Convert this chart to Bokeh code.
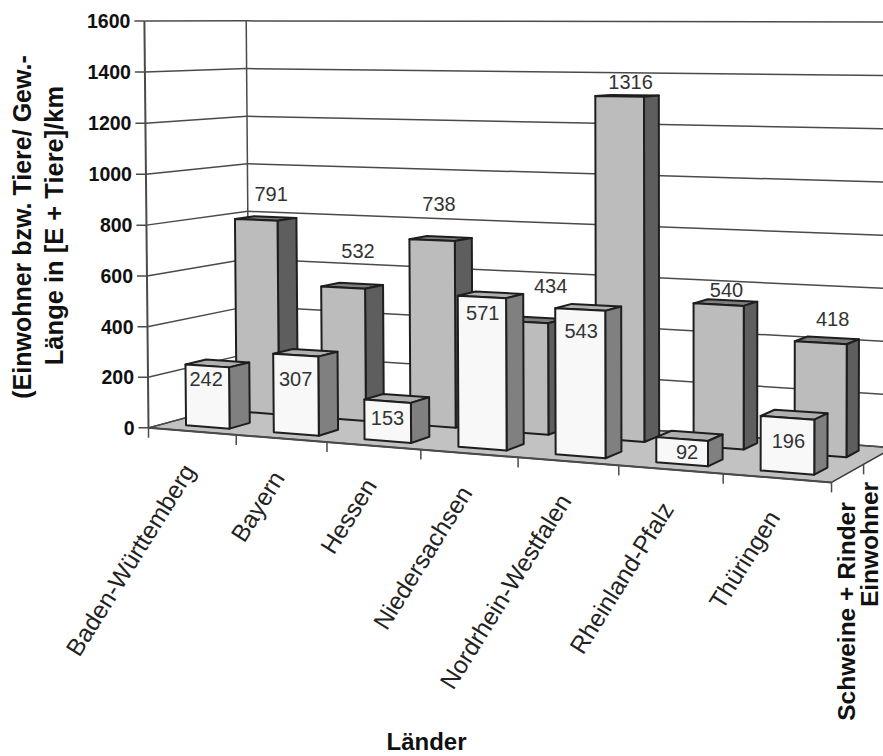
import numpy as np
from bokeh.plotting import figure
from bokeh.models import Range1d
from bokeh.core.properties import value
from bokeh.embed import file_html
from bokeh.resources import INLINE

laender = ["Baden-Württemberg", "Bayern", "Hessen", "Niedersachsen",
           "Nordrhein-Westfalen", "Rheinland-Pfalz", "Thüringen"]
einwohner = [242, 307, 153, 571, 543, 92, 196]
schweine_rinder = [791, 532, 738, 434, 1316, 540, 418]
y_ticks = [0, 200, 400, 600, 800, 1000, 1200, 1400, 1600]
series_names = ["Schweine + Rinder", "Einwohner"]
y_title = ["(Einwohner bzw. Tiere/ Gew.-", "Länge in [E + Tiere]/km"]
x_title = "Länder"

# camera calibration: (category pos, depth, value) -> page pixel
CAL = [
    (0, 0, 0, 148, 427), (7, 0, 0, 831, 482), (0, 1, 0, 248, 400), (7, 1, 0, 893, 448),
    (0, 0, 1600, 143, 20.5), (0, 1, 1600, 246, 20.5), (7, 1, 1600, 893, 21),
    (1, 0, 0, 236, 434), (2, 0, 0, 326, 441.5), (3, 0, 0, 420, 449), (4, 0, 0, 517, 456.5),
    (5, 0, 0, 618, 465), (6, 0, 0, 723, 473.5),
    (0, 0, 800, 145.5, 225), (0, 1, 800, 247, 211),
    (6.75, 0.65, 418, 846, 343), (4.75, 0.65, 1316, 645, 96), (0.75, 0.65, 791, 278, 220),
    (6.75, 0.15, 196, 814, 419), (3.75, 0.15, 571, 506, 299), (0.75, 0.15, 242, 230, 366.7),
]
A = []
b = []
for u, v, h, x, y in CAL:
    h = h / 1000.0
    A.append([u, v, h, 1, 0, 0, 0, 0, -x * u, -x * v, -x * h]); b.append(x)
    A.append([0, 0, 0, 0, u, v, h, 1, -y * u, -y * v, -y * h]); b.append(y)
M = np.linalg.lstsq(np.array(A, float), np.array(b, float), rcond=None)[0]


def P(u, v, h):
    h = h / 1000.0
    w = M[8] * u + M[9] * v + M[10] * h + 1
    return ((M[0] * u + M[1] * v + M[2] * h + M[3]) / w,
            (M[4] * u + M[5] * v + M[6] * h + M[7]) / w)


W, H = 883, 756
p = figure(width=W, height=H, output_backend="svg", toolbar_location=None,
           x_range=Range1d(0, W), y_range=Range1d(H, 0),
           x_axis_location=None, y_axis_location=None, min_border=0,
           outline_line_color=None, background_fill_color="white",
           border_fill_color="white")
p.grid.visible = False

FONT = value("Liberation Sans")
GRID = "#4a4a4a"
EDGE = "#1e1e1e"
NC = len(laender)


def seg(a, b, width=1.5, color=GRID):
    p.line([a[0], b[0]], [a[1], b[1]], line_color=color, line_width=width)


# floor
fl = [P(0, 0, 0), P(NC, 0, 0), P(NC, 1, 0), P(0, 1, 0)]
p.patch([q[0] for q in fl], [q[1] for q in fl], fill_color="#c2c2c2", line_color="#3a3a3a", line_width=1.5)

# walls: gridlines and value ticks
for t in y_ticks:
    a = P(0, 0, t)
    seg((a[0] - 10, a[1]), a)
    seg(a, P(0, 1, t))
    seg(P(0, 1, t), P(NC, 1, t))
seg(P(0, 0, 0), P(0, 0, y_ticks[-1]), 2)
seg(P(0, 1, 0), P(0, 1, y_ticks[-1]), 1.5)
seg(fl[0], fl[1], 2)

# category ticks on the floor edge
for i in range(NC + 1):
    a = P(i, 0, 0)
    seg(a, (a[0], a[1] + 10))
a = P(NC, 0.5, 0)
seg(a, (a[0], a[1] + 10))

BW = 0.25
BD = 0.10


def bar(i, vc, val, front, top, side):
    u0, u1 = i + 0.5 - BW, i + 0.5 + BW
    v0, v1 = vc - BD, vc + BD
    faces = [
        ([P(u0, v0, val), P(u1, v0, val), P(u1, v1, val), P(u0, v1, val)], top),
        ([P(u1, v0, 0), P(u1, v1, 0), P(u1, v1, val), P(u1, v0, val)], side),
        ([P(u0, v0, 0), P(u1, v0, 0), P(u1, v0, val), P(u0, v0, val)], front),
    ]
    for pts, col in faces:
        p.patch([q[0] for q in pts], [q[1] for q in pts], fill_color=col,
                line_color=EDGE, line_width=2, line_join="round")


for i, val in enumerate(schweine_rinder):
    bar(i, 0.75, val, "#bcbcbc", "#7e7e7e", "#5e5e5e")
for i, val in enumerate(einwohner):
    bar(i, 0.25, val, "#f8f8f8", "#b0b0b0", "#808080")

# value tick labels
tp = [P(0, 0, t) for t in y_ticks]
p.text([q[0] - 14 for q in tp], [q[1] for q in tp], text=[str(t) for t in y_ticks],
       text_font=FONT, text_font_size=value("19.5px"), text_font_style="bold",
       text_align="right", text_baseline="middle", text_color="#111111")

# data labels (offsets from the top-front centre of each bar, in pixels)
grey_off = [(15, -26), (15, -37), (7, -36), (26, -36), (11, -14), (8, -15), (12, -24)]
white_off = [(-1, 13), (0, 24), (0, 17), (1, 16), (1, 21), (5, 13), (1, 23)]
for vals, vc, off in ((schweine_rinder, 0.65, grey_off), (einwohner, 0.15, white_off)):
    pts = [P(i + 0.5, vc, val) for i, val in enumerate(vals)]
    p.text([q[0] + o[0] for q, o in zip(pts, off)], [q[1] + o[1] for q, o in zip(pts, off)],
           text=[str(v) for v in vals], text_font=FONT, text_font_size=value("20px"),
           text_align="center", text_baseline="middle", text_color="#333333")

# category labels
lp = [P(i + 0.5, 0, 0) for i in range(NC)]
p.text([q[0] - 3 for q in lp], [q[1] + 35 for q in lp], text=laender, angle=58, angle_units="deg",
       text_font=FONT, text_font_size=value("24.5px"),
       text_align="right", text_baseline="middle", text_color="#222222")

# titles
p.text([21], [226.5], text=[y_title[0]], angle=90, angle_units="deg", text_font=FONT,
       text_font_size=value("25px"), text_font_style="bold",
       text_align="center", text_baseline="middle", text_color="#111111")
p.text([53], [225], text=[y_title[1]], angle=90, angle_units="deg", text_font=FONT,
       text_font_size=value("25.5px"), text_font_style="bold",
       text_align="center", text_baseline="middle", text_color="#111111")
p.text([426], [741], text=[x_title], text_font=FONT, text_font_size=value("24px"),
       text_font_style="bold", text_align="center", text_baseline="middle", text_color="#111111")

# series names (depth axis)
p.text([846], [611], text=[series_names[0]], angle=90, angle_units="deg", text_font=FONT,
       text_font_size=value("24.5px"), text_font_style="bold",
       text_align="center", text_baseline="middle", text_color="#111111")
p.text([869], [544], text=[series_names[1]], angle=90, angle_units="deg", text_font=FONT,
       text_font_size=value("24.5px"), text_font_style="bold",
       text_align="center", text_baseline="middle", text_color="#111111")

open("out.html", "w").write(file_html(p, INLINE))
